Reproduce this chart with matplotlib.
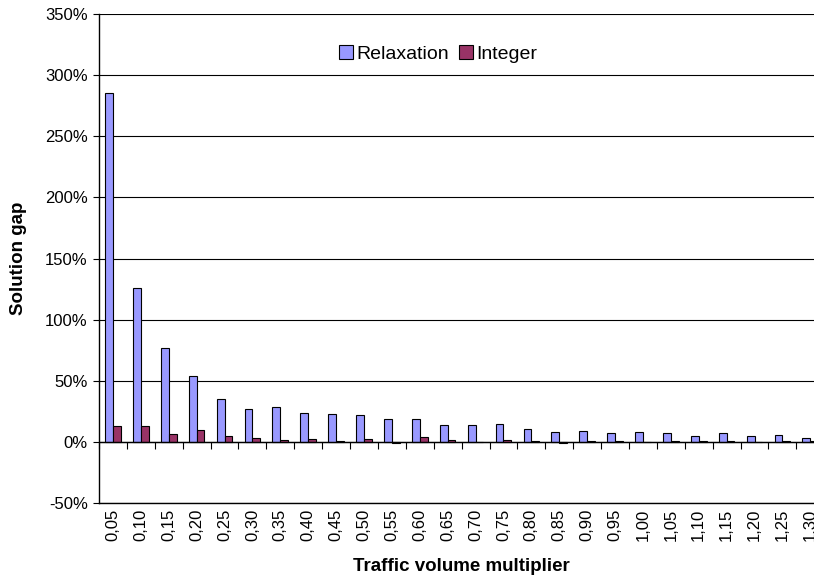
import matplotlib
matplotlib.use("Agg")
import matplotlib.pyplot as plt
import numpy as np

plt.rcParams['font.family'] = ['Liberation Sans', 'DejaVu Sans']

multipliers = ['0,05', '0,10', '0,15', '0,20', '0,25', '0,30', '0,35', '0,40', '0,45',
               '0,50', '0,55', '0,60', '0,65', '0,70', '0,75', '0,80', '0,85', '0,90',
               '0,95', '1,00', '1,05', '1,10', '1,15', '1,20', '1,25', '1,30']
relaxation = [285, 126, 77, 53.5, 35, 26.8, 28.7, 23.5, 23.2, 22.4, 18.6, 18.6, 13.9,
              13.7, 14.8, 10.4, 8.5, 8.7, 7.4, 7.9, 7.1, 5.2, 7.4, 4.9, 5.5, 3.0]
integer = [13.1, 12.8, 6.8, 9.8, 4.6, 3.0, 1.4, 2.2, 0.8, 2.2, -0.5, 3.8, 1.9,
           0.0, 1.6, 0.8, -1.2, 0.6, 0.8, 0.3, 0.6, 0.6, 0.6, 0.2, 0.8, 0.5]
yticks = [-50, 0, 50, 100, 150, 200, 250, 300, 350]

fig = plt.figure(figsize=(8.14, 5.76), dpi=100)
ax = fig.add_axes([0.1216, 0.1267, 0.891, 0.849])

x = np.arange(len(multipliers))
w = 0.28
ax.bar(x - w / 2, relaxation, w, color='#9999FF', edgecolor='black', linewidth=0.8,
       label='Relaxation', zorder=3)
ax.bar(x + w / 2, integer, w, color='#993366', edgecolor='black', linewidth=0.8,
       label='Integer', zorder=3)

ax.set_xlim(-0.5, len(multipliers) - 0.5)
ax.set_ylim(-50, 350)
ax.set_yticks(yticks)
ax.set_yticklabels([f'{v}%' for v in yticks], fontsize=12)
ax.yaxis.grid(True, color='black', linewidth=0.8, zorder=0)
ax.set_axisbelow(True)

ax.set_xticks(x)
ax.set_xticklabels(multipliers, rotation=90, fontsize=12)
ax.tick_params(axis='x', length=0, pad=4)
ax.tick_params(axis='y', direction='out', length=4, width=0.8, pad=4)

for s in ['top', 'right']:
    ax.spines[s].set_visible(False)
ax.spines['left'].set_linewidth(1)
ax.spines['bottom'].set_linewidth(1)

# zero axis with category boundary ticks
ax.axhline(0, color='black', linewidth=1, zorder=4)
sec = ax.secondary_xaxis(50 / 400)
sec.set_xticks(np.arange(len(multipliers) + 1) - 0.5)
sec.set_xticklabels([])
sec.tick_params(direction='out', length=5, width=0.8)
sec.spines['bottom'].set_visible(False)

ax.set_xlabel('Traffic volume multiplier', fontsize=13.5, fontweight='bold', labelpad=12)
ax.set_ylabel('Solution gap', fontsize=13.5, fontweight='bold', labelpad=13)

ax.legend(loc='center', bbox_to_anchor=(0.468, 0.918), ncol=2, frameon=False,
          fontsize=14, handlelength=0.7, handleheight=0.7, handletextpad=0.2,
          columnspacing=0.5)

fig.savefig('out.png', dpi=100)
